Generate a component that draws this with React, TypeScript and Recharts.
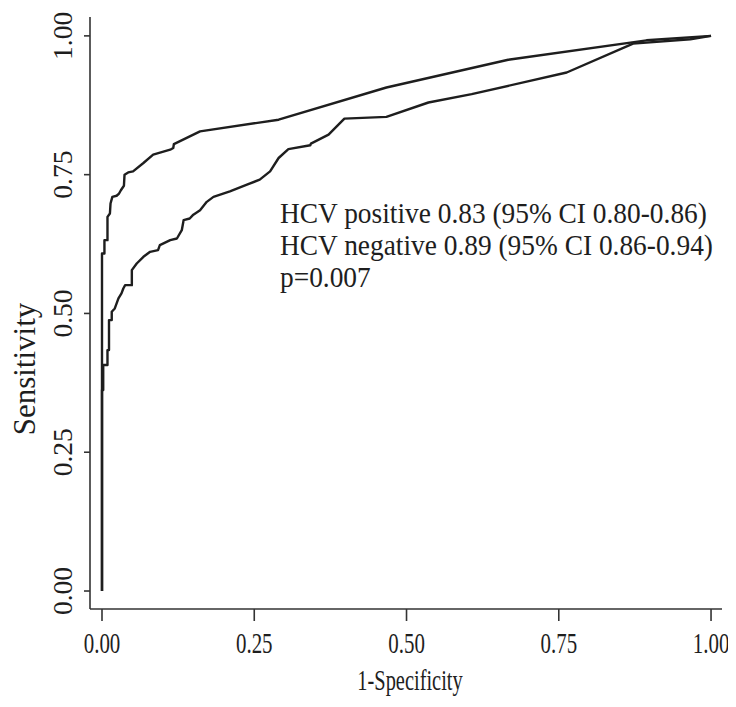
import React from 'react';
import { LineChart, Line, XAxis, YAxis, Customized } from 'recharts';

// Axis ticks
const xTicks = [0, 0.25, 0.5, 0.75, 1];
const yTicks = [0, 0.25, 0.5, 0.75, 1];

// HCV negative ROC (upper curve)
const negFpr = [0, 0, 0.004, 0.004, 0.009, 0.009, 0.013, 0.014, 0.017, 0.024, 0.028, 0.031, 0.036, 0.037, 0.043, 0.051, 0.068, 0.084, 0.112, 0.117, 0.118, 0.161, 0.29, 0.467, 0.667, 0.894, 1];
const negTpr = [0, 0.608, 0.608, 0.632, 0.632, 0.674, 0.68, 0.698, 0.71, 0.712, 0.716, 0.722, 0.73, 0.75, 0.754, 0.756, 0.771, 0.786, 0.795, 0.798, 0.805, 0.828, 0.849, 0.907, 0.957, 0.992, 1];

// HCV positive ROC (lower curve)
const posFpr = [0, 0, 0.002, 0.002, 0.009, 0.009, 0.0115, 0.0115, 0.016, 0.016, 0.021, 0.024, 0.027, 0.032, 0.035, 0.038, 0.049, 0.049, 0.057, 0.068, 0.079, 0.092, 0.095, 0.112, 0.123, 0.131, 0.134, 0.144, 0.15, 0.161, 0.172, 0.183, 0.21, 0.238, 0.259, 0.276, 0.29, 0.306, 0.342, 0.343, 0.372, 0.398, 0.467, 0.536, 0.607, 0.763, 0.872, 0.966, 1];
const posTpr = [0, 0.362, 0.362, 0.407, 0.407, 0.434, 0.434, 0.488, 0.488, 0.503, 0.509, 0.518, 0.527, 0.536, 0.545, 0.551, 0.551, 0.578, 0.59, 0.602, 0.611, 0.614, 0.623, 0.632, 0.635, 0.65, 0.668, 0.671, 0.678, 0.686, 0.701, 0.71, 0.72, 0.732, 0.741, 0.756, 0.78, 0.796, 0.803, 0.806, 0.822, 0.851, 0.854, 0.88, 0.895, 0.934, 0.986, 0.994, 1];

const annotationLines = [
  'HCV positive 0.83 (95% CI 0.80-0.86)',
  'HCV negative 0.89 (95% CI 0.86-0.94)',
  'p=0.007',
];
const xTitle = '1-Specificity';
const yTitle = 'Sensitivity';

const negData = negFpr.map((x, i) => ({ x, y: negTpr[i] }));
const posData = posFpr.map((x, i) => ({ x, y: posTpr[i] }));

const FONT = '"Liberation Serif", "Times New Roman", serif';
const INK = '#1e1e1e';
const AXIS = '#333333';

const XTick = (props: any) => {
  const { x, y, payload } = props;
  return (
    <g transform={`translate(${x},${y + 30}) scale(0.71,1)`}>
      <text x={0} y={0} textAnchor="middle" fontFamily={FONT} fontSize={29.5} fill={INK}>
        {Number(payload.value).toFixed(2)}
      </text>
    </g>
  );
};

const YTick = (props: any) => {
  const { x, y, payload } = props;
  const bx = x - 10;
  return (
    <text
      x={bx}
      y={y}
      transform={`rotate(-90, ${bx}, ${y})`}
      textAnchor="middle"
      fontFamily={FONT}
      fontSize={27.5}
      fill={INK}
    >
      {Number(payload.value).toFixed(2)}
    </text>
  );
};

const Overlay = () => (
  <g>
    {annotationLines.map((t, i) => (
      <g key={i} transform={`translate(272,${215 + i * 32}) scale(0.951,1)`}>
        <text x={0} y={0} fontFamily={FONT} fontSize={28.8} fill={INK}>
          {t}
        </text>
      </g>
    ))}
    <g transform="translate(402,682) scale(0.68,1)">
      <text x={0} y={0} textAnchor="middle" fontFamily={FONT} fontSize={30} fill={INK}>
        {xTitle}
      </text>
    </g>
    <text
      x={27}
      y={361}
      transform="rotate(-90, 27, 361)"
      textAnchor="middle"
      fontFamily={FONT}
      fontSize={31}
      fill={INK}
    >
      {yTitle}
    </text>
  </g>
);

export default function App() {
  return (
    <LineChart
      width={720}
      height={690}
      margin={{ top: 9, right: 6, left: 0, bottom: 0 }}
    >
      <XAxis
        type="number"
        dataKey="x"
        domain={[-0.0197, 1.018]}
        allowDataOverflow
        ticks={xTicks}
        tickSize={12}
        tickMargin={2}
        height={89}
        stroke={AXIS}
        axisLine={{ stroke: AXIS, strokeWidth: 1.6 }}
        tickLine={{ stroke: AXIS, strokeWidth: 1.6 }}
        tick={<XTick />}
      />
      <YAxis
        type="number"
        dataKey="y"
        domain={[-0.0324, 1.034]}
        allowDataOverflow
        ticks={yTicks}
        tickSize={6}
        tickMargin={2}
        width={82}
        stroke={AXIS}
        axisLine={{ stroke: AXIS, strokeWidth: 1.6 }}
        tickLine={{ stroke: AXIS, strokeWidth: 1.6 }}
        tick={<YTick />}
      />
      <Line
        data={negData}
        dataKey="y"
        type="linear"
        stroke={INK}
        strokeWidth={2.4}
        dot={false}
        activeDot={false}
        isAnimationActive={false}
        strokeLinejoin="round"
      />
      <Line
        data={posData}
        dataKey="y"
        type="linear"
        stroke={INK}
        strokeWidth={2.4}
        dot={false}
        activeDot={false}
        isAnimationActive={false}
        strokeLinejoin="round"
      />
      <Customized component={Overlay} />
    </LineChart>
  );
}
